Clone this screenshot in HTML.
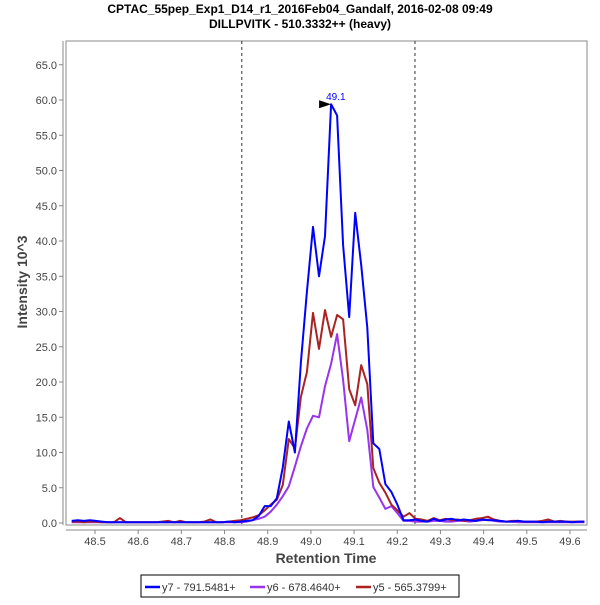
<!DOCTYPE html>
<html><head><meta charset="utf-8"><style>
body{margin:0;background:#fff;width:600px;height:600px;overflow:hidden}
svg text{font-family:"Liberation Sans",sans-serif}
</style></head><body>
<svg id="c" width="600" height="600">
<text x="300" y="13" text-anchor="middle" font-size="12" font-weight="bold">CPTAC_55pep_Exp1_D14_r1_2016Feb04_Gandalf, 2016-02-08 09:49</text>
<text x="300" y="28" text-anchor="middle" font-size="12" font-weight="bold">DILLPVITK - 510.3332++ (heavy)</text>
<rect x="66" y="41" width="521" height="484" fill="#fff" stroke="#888"/>
<g id="axes"></g>
<g id="series"></g>
<text x="326" y="563" text-anchor="middle" font-size="14" font-weight="bold" fill="#444">Retention Time</text>
<text transform="translate(27,282) rotate(-90)" text-anchor="middle" font-size="14" font-weight="bold" fill="#444">Intensity 10^3</text>
<g>
<rect x="141" y="575" width="318" height="22" fill="#fff" stroke="#000"/>
<g><line x1="145" y1="587" x2="160" y2="587" stroke="#0000ff" stroke-width="2.5"/><text x="162" y="591" font-size="11" fill="#333">y7 - 791.5481+</text></g>
<g><line x1="250" y1="587" x2="265" y2="587" stroke="#9933ee" stroke-width="2.5"/><text x="267" y="591" font-size="11" fill="#333">y6 - 678.4640+</text></g>
<g><line x1="356" y1="587" x2="371" y2="587" stroke="#aa2222" stroke-width="2.5"/><text x="373" y="591" font-size="11" fill="#333">y5 - 565.3799+</text></g>
</g>
</svg>
<script>
const t0 = 48.446, tStep = 0.01397;
const xTicks = [48.5,48.6,48.7,48.8,48.9,49.0,49.1,49.2,49.3,49.4,49.5,49.6];
const yTicks = [0,5,10,15,20,25,30,35,40,45,50,55,60,65];
const boundaries = [48.840, 49.241];
const peakTime = 49.1, peakLabel = "49.1", peakValue = 59.4;
const y7 = [0.3,0.4,0.3,0.4,0.3,0.2,0.1,0.1,0.1,0.1,0.1,0.1,0.1,0.1,0.1,0.1,0.1,0.1,0.1,0.1,0.1,0.1,0.1,0.1,0.1,0.1,0.2,0.1,0.2,0.3,
0.4,1.0,2.4,2.4,3.5,7.9,14.4,10,22.8,32.8,42,35,40.7,59.4,57.8,39.4,29.2,44,36.6,27.7,11.3,10.5,5.5,4.4,2.6,0.4,
0.4,0.5,0.3,0.2,0.6,0.3,0.5,0.6,0.4,0.5,0.4,0.3,0.5,0.4,0.4,0.3,0.2,0.2,0.3,0.2,0.2,0.2,0.1,0.2,0.2,0.2,0.2,0.1,0.2,0.2];
const y6 = [0.1,0.1,0.1,0.1,0.1,0.1,0.1,0.1,0.1,0.1,0.1,0.1,0.1,0.1,0.1,0.1,0.1,0.1,0.1,0.1,0.1,0.1,0.1,0.1,0.1,0.1,0.1,0.1,0.1,0.2,0.4,
0.6,0.9,1.6,2.6,3.8,5.2,8,10.9,13.4,15.2,15,19.4,22.6,26.8,20.3,11.6,14.7,17.8,13.2,5.1,3.6,2,2.4,1.4,0.3,0.3,0.2,
0.2,0.2,0.3,0.3,0.2,0.2,0.3,0.3,0.2,0.3,0.4,0.5,0.3,0.2,0.2,0.2,0.1,0.1,0.1,0.1,0.1,0.1,0.1,0.1,0.1,0.1,0.1,0.1];
const y5 = [0.2,0.2,0.1,0.2,0.2,0.1,0.1,0.1,0.7,0.1,0.1,0.1,0.1,0.1,0.1,0.2,0.3,0.1,0.3,0.1,0.1,0.1,0.2,0.5,0.1,0.1,0.2,0.3,0.4,0.6,
0.8,1.1,1.8,2.6,3.3,5.4,11.9,10.6,17.9,21.4,29.8,24.7,30.2,26.4,29.5,28.9,19,16.7,22.4,19.7,7.8,5.7,4.3,2.6,1.8,0.9,1.4,0.6,
0.5,0.3,0.7,0.4,0.6,0.4,0.5,0.3,0.4,0.6,0.7,0.9,0.5,0.3,0.2,0.3,0.3,0.2,0.2,0.2,0.3,0.5,0.2,0.3,0.2,0.2,0.2,0.2];

const NS="http://www.w3.org/2000/svg";
const X = t => 95 + (t-48.5)*431.8;
const Y = v => 523 - v*7.05;
function mk(tag, attrs, parent){const e=document.createElementNS(NS,tag);for(const k in attrs)e.setAttribute(k,attrs[k]);parent.appendChild(e);return e;}
const axes=document.getElementById('axes'), ser=document.getElementById('series');
const xl=mk('line',{x1:66,y1:530,x2:587,y2:530,stroke:'#888'},axes);


const yl=mk('line',{x1:63,y1:41,x2:63,y2:525,stroke:'#888'},axes);


xTicks.forEach(v=>{
  mk('line',{x1:X(v),y1:530,x2:X(v),y2:534,stroke:'#888'},axes);
  const tx=mk('text',{x:X(v),y:545,'text-anchor':'middle','font-size':11,fill:'#444'},axes);
  tx.textContent=v.toFixed(1);
  
  
});
yTicks.forEach(v=>{
  mk('line',{x1:59,y1:Y(v),x2:63,y2:Y(v),stroke:'#888'},axes);
  const tx=mk('text',{x:57,y:Y(v)+4,'text-anchor':'end','font-size':11,fill:'#444'},axes);
  tx.textContent=v.toFixed(1);
  
  
});
boundaries.forEach(b=>{
  const l=mk('line',{x1:X(b),y1:41,x2:X(b),y2:525,stroke:'#333','stroke-dasharray':'3,3'},axes);
  
  
});
function draw(vals,color,name){
  const pts=vals.map((v,i)=>X(t0+i*tStep).toFixed(1)+','+Y(v).toFixed(1)).join(' ');
  const p=mk('polyline',{points:pts,fill:'none',stroke:color,'stroke-width':2,'stroke-linejoin':'round'},ser);
  
  
}
draw(y6,'#9933ee','series-y6');
draw(y5,'#aa2222','series-y5');
draw(y7,'#0000ff','series-y7');
const px=X(peakTime)-23, py=Y(peakValue);
const ar=mk('polygon',{points:`${px-12},${py-4} ${px-12},${py+4} ${px},${py}`,fill:'#000'},ser);


const pl=mk('text',{x:px-5,y:py-4,'font-size':10,fill:'#0000ff'},ser);
pl.textContent=peakLabel;


</script>
</body></html>
